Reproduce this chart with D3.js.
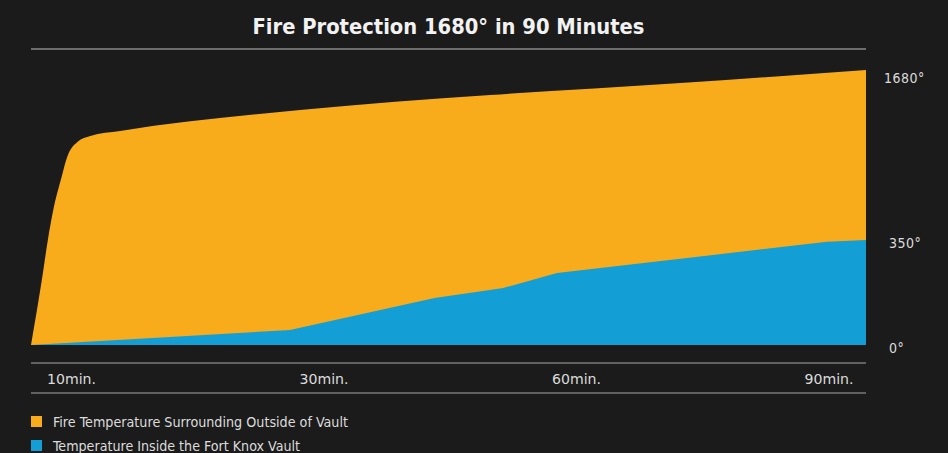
<!DOCTYPE html>
<html>
<head>
<meta charset="utf-8">
<script src="https://cdn.jsdelivr.net/npm/d3@7"></script>
<style>
  html, body { margin: 0; padding: 0; background: #1b1b1b; }
  svg { display: block; }
</style>
</head>
<body>
<svg id="chart" width="948" height="453"></svg>
<script>
// ---- data ----
const title = "Fire Protection 1680\u00b0 in 90 Minutes";
const outsideMinutes = [0, 1.2, 1.8, 2.4, 3.3, 3.9, 5.0, 6.4, 9.6, 29, 49.5, 70, 90];
const outsideTemps   = [0, 223, 347, 585, 843, 999, 1117, 1164, 1203, 1367, 1484, 1578, 1680];
const insideMinutes  = [0, 27.9, 43.5, 50.9, 56.7, 85.8, 90];
const insideTemps    = [0, 50, 157, 190, 240, 344, 350];
const yTickValues = [0, 350, 1680];
const yTickLabels = ["0\u00b0", "350\u00b0", "1680\u00b0"];
const xTickLabels = ["10min.", "30min.", "60min.", "90min."];
const seriesNames = ["Fire Temperature Surrounding Outside of Vault", "Temperature Inside the Fort Knox Vault"];
const seriesColors = ["#f8ac1b", "#139fd6"];

const svg = d3.select("#chart");
const left = 31, right = 866, base = 345;

const x = d3.scaleLinear().domain([0, 90]).range([left, right]);
const y = d3.scaleLinear().domain([0, 350, 1680]).range([base, 240, 70]);

// title
svg.append("text")
  .attr("x", 448.5).attr("y", 34)
  .attr("text-anchor", "middle")
  .attr("fill", "#f2f2f2")
  .attr("font-family", "'DejaVu Sans Condensed', 'DejaVu Sans', sans-serif")
  .attr("font-weight", "bold")
  .attr("font-size", 21)
  .attr("textLength", 392).attr("lengthAdjust", "spacingAndGlyphs")
  .text(title);

// lines
const lineColor = "#7a7a7a";
[49, 363, 393].forEach(yy => {
  svg.append("line").attr("x1", left).attr("x2", right).attr("y1", yy).attr("y2", yy)
    .attr("stroke", yy === 49 ? "#8a8a8a" : lineColor).attr("stroke-width", 1.5);
});

// areas
const outside = outsideMinutes.map((m, i) => ({m, v: outsideTemps[i]}));
const inside = insideMinutes.map((m, i) => ({m, v: insideTemps[i]}));

const areaOut = d3.area().x(d => x(d.m)).y0(y(0)).y1(d => y(d.v)).curve(d3.curveMonotoneX);
const areaIn = d3.area().x(d => x(d.m)).y0(y(0)).y1(d => y(d.v)).curve(d3.curveLinear);

svg.append("path").datum(outside).attr("d", areaOut).attr("fill", seriesColors[0]);
svg.append("path").datum(inside).attr("d", areaIn).attr("fill", seriesColors[1]);

// y labels (right)
svg.selectAll("text.ylab").data(yTickValues).enter().append("text")
  .attr("class", "ylab")
  .attr("x", (d, i) => i === 2 ? 884 : 889)
  .attr("y", d => y(d) + (d === 1680 ? 13 : 8))
  .attr("fill", "#dcdcdc")
  .attr("font-family", "'DejaVu Sans Condensed', 'DejaVu Sans', sans-serif")
  .attr("font-size", 14)
  .attr("letter-spacing", 0.5)
  .text((d, i) => yTickLabels[i]);

// x labels
const xp = d3.scalePoint().domain(xTickLabels).range([71.5, 829]);
svg.selectAll("text.xlab").data(xTickLabels).enter().append("text")
  .attr("class", "xlab")
  .attr("x", d => xp(d)).attr("y", 384)
  .attr("text-anchor", "middle")
  .attr("fill", "#dcdcdc")
  .attr("font-family", "'DejaVu Sans Condensed', 'DejaVu Sans', sans-serif")
  .attr("font-size", 14)
  .attr("textLength", 49).attr("lengthAdjust", "spacingAndGlyphs")
  .text(d => d);

// legend
const legendWidths = [295, 247];
seriesNames.forEach((name, i) => {
  const yy = 416 + i * 24;
  svg.append("rect").attr("x", 31).attr("y", yy).attr("width", 11).attr("height", 11)
    .attr("fill", seriesColors[i]);
  svg.append("text").attr("x", 53).attr("y", yy + 11)
    .attr("fill", "#dcdcdc")
    .attr("font-family", "'DejaVu Sans Condensed', 'DejaVu Sans', sans-serif")
    .attr("font-size", 14)
    .attr("textLength", legendWidths[i]).attr("lengthAdjust", "spacingAndGlyphs")
    .text(name);
});
</script>
</body>
</html>
